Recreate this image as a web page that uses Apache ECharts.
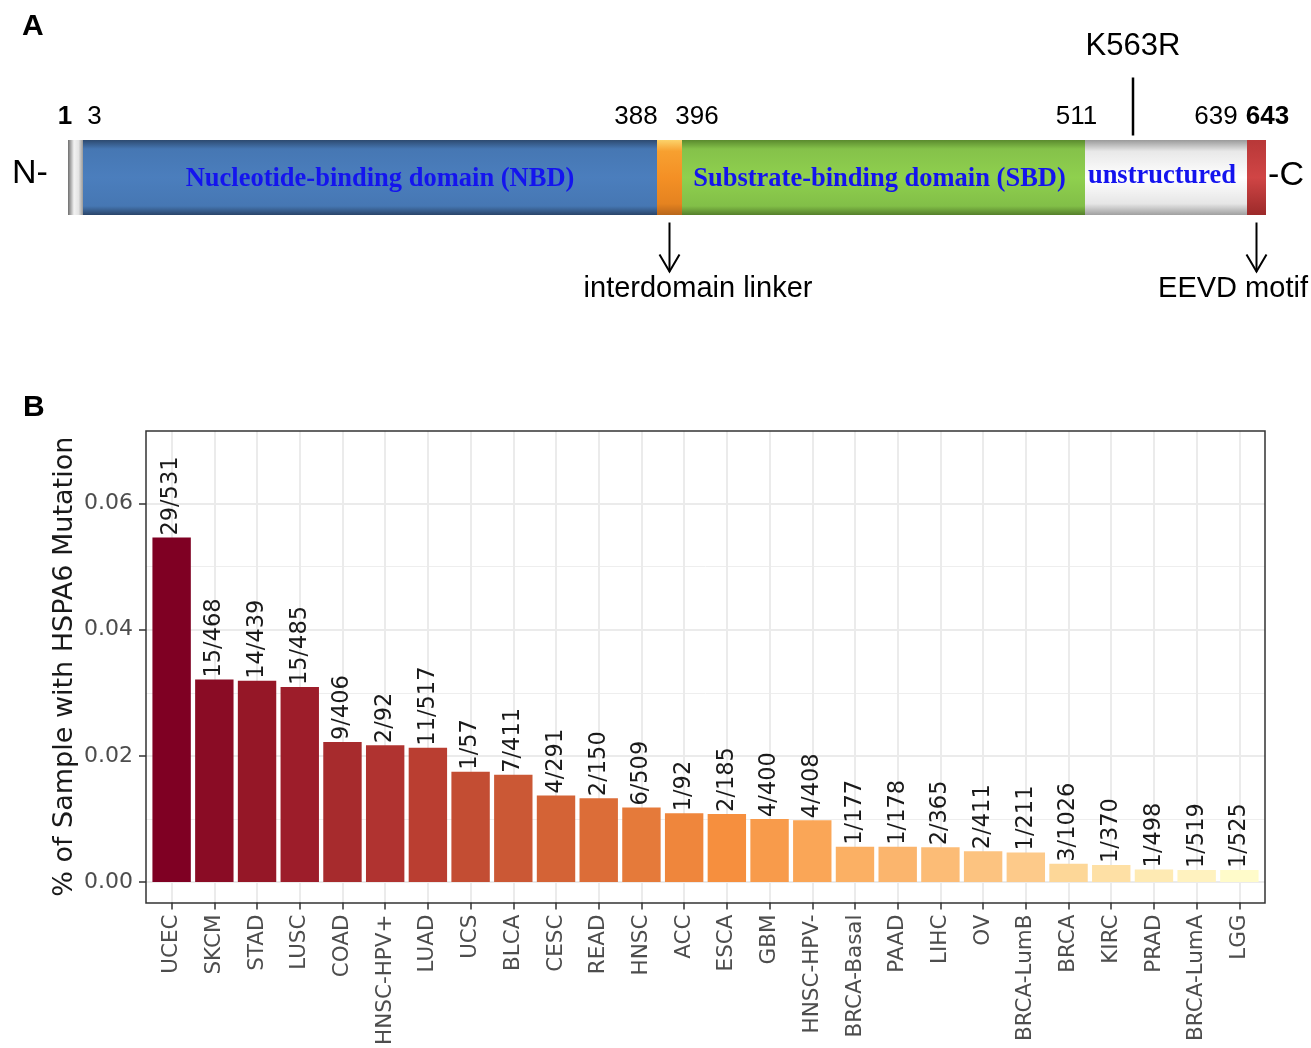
<!DOCTYPE html>
<html>
<head>
<meta charset="utf-8">
<script src="https://cdn.jsdelivr.net/npm/echarts@6/dist/echarts.min.js"></script>
<style>
html,body{margin:0;padding:0;background:#fff;}
#main{width:1311px;height:1048px;}
</style>
</head>
<body>
<div id="main"></div>
<script>
// ---------- panel A : HSPA6 domains (schematic, drawn lengths, not to scale) ----------
const domainNames = ["", "Nucleotide-binding domain (NBD)", "", "Substrate-binding domain (SBD)", "unstructured", ""];
const domainLength = [15, 574, 25, 403, 162, 19];
const edgeLabels = ["1", "3", "388", "396", "511", "639", "643"];
const mutationLabel = "K563R";
const mutationAt = 1065;
const arrowLabels = ["interdomain linker", "EEVD motif"];

// ---------- panel B : mutation frequency per cancer type ----------
const cancerTypes = ["UCEC", "SKCM", "STAD", "LUSC", "COAD", "HNSC-HPV+", "LUAD", "UCS", "BLCA", "CESC",
    "READ", "HNSC", "ACC", "ESCA", "GBM", "HNSC-HPV-", "BRCA-Basal", "PAAD", "LIHC", "OV",
    "BRCA-LumB", "BRCA", "KIRC", "PRAD", "BRCA-LumA", "LGG"];
const mutatedOf = ["29/531", "15/468", "14/439", "15/485", "9/406", "2/92", "11/517", "1/57", "7/411", "4/291",
    "2/150", "6/509", "1/92", "2/185", "4/400", "4/408", "1/177", "1/178", "2/365", "2/411",
    "1/211", "3/1026", "1/370", "1/498", "1/519", "1/525"];
const mutationFraction = [0.0546, 0.0321, 0.0319, 0.0309, 0.0222, 0.0217, 0.0213, 0.0175, 0.0170, 0.0137,
    0.0133, 0.0118, 0.0109, 0.0108, 0.0100, 0.0098, 0.0056, 0.0056, 0.0055, 0.0049,
    0.0047, 0.0029, 0.0027, 0.0020, 0.0019, 0.0019];
const yMajor = [0, 0.02, 0.04, 0.06];
const yMinor = [0.01, 0.03, 0.05];

const barColors = ["#7f0023", "#8a0c25", "#951727", "#9d1d2a", "#a72b2d", "#b03330", "#ba3e31", "#c34d33",
    "#cb5835", "#d46336", "#dc6d38", "#e57a3a", "#ef863c", "#f68f3e", "#f89b4b", "#faa657",
    "#fbb064", "#fbb56d", "#fcbc76", "#fcc380", "#fdca8a", "#fdd798", "#fee0a5", "#feeab3",
    "#fff2bf", "#fffbca"];

const G = echarts.graphic.LinearGradient;
const domainFill = [
    new G(0, 0, 1, 0, [{offset:0,color:"#6e6e6e"},{offset:0.4,color:"#f2f2f2"},{offset:0.7,color:"#e4e4e4"},{offset:1,color:"#9a9a9a"}]),
    new G(0, 0, 0, 1, [{offset:0,color:"#2d4a70"},{offset:0.12,color:"#4677b3"},{offset:0.5,color:"#4b7ebd"},{offset:0.88,color:"#4677b3"},{offset:1,color:"#2a4569"}]),
    new G(0, 0, 0, 1, [{offset:0,color:"#fcd36a"},{offset:0.15,color:"#f7a030"},{offset:0.5,color:"#f49025"},{offset:0.85,color:"#e58320"},{offset:1,color:"#b8661a"}]),
    new G(0, 0, 0, 1, [{offset:0,color:"#5a8a2e"},{offset:0.12,color:"#85c24a"},{offset:0.5,color:"#8fd04e"},{offset:0.88,color:"#82bf48"},{offset:1,color:"#557f2b"}]),
    new G(0, 0, 0, 1, [{offset:0,color:"#9a9a9a"},{offset:0.15,color:"#e8e8e8"},{offset:0.5,color:"#ffffff"},{offset:0.85,color:"#e6e6e6"},{offset:1,color:"#a0a0a0"}]),
    new G(0, 0, 0, 1, [{offset:0,color:"#b83838"},{offset:0.5,color:"#d04545"},{offset:1,color:"#9c2a2a"}])
];
const domainLabelOffset = [[0,0],[10,2],[0,0],[-4,2],[-4,-1],[0,0]];
const edgeDx = [-3, 11.5, -21, 15, -8.5, -31, 1.5];
const edgeBold = [true, false, false, false, false, false, true];

function edgePos(i){
    let s = 0;
    for(let k=0;k<i;k++) s += domainLength[k];
    return s;
}

const sansA = '"Liberation Sans", Arial, sans-serif';
const sansB = '"DejaVu Sans", sans-serif';

const domainSeries = domainNames.map((name, i) => ({
    type: "bar",
    stack: "domain",
    xAxisIndex: 0,
    yAxisIndex: 0,
    barWidth: "100%",
    silent: true,
    data: [domainLength[i]],
    itemStyle: { color: domainFill[i] },
    label: {
        show: name !== "",
        position: "inside",
        offset: domainLabelOffset[i],
        formatter: name,
        color: "#1414ee",
        fontFamily: '"Liberation Serif", "Times New Roman", serif',
        fontWeight: "bold",
        fontSize: 26.5
    }
}));

function annotate(params, api){
    const kids = [];
    const left = api.coord([0, 0]);
    const right = api.coord([edgePos(domainLength.length), 0]);
    const cy = left[1];

    edgeLabels.forEach((t, i) => {
        const p = api.coord([edgePos(i), 0]);
        kids.push({type:"text", style:{text:t, x:p[0]+edgeDx[i], y:cy-61, align:"center", verticalAlign:"middle",
            font:(edgeBold[i] ? "bold " : "") + "26px " + sansA, fill:"#000"}});
    });

    // mutation site
    const m = api.coord([mutationAt, 0]);
    kids.push({type:"line", shape:{x1:m[0], y1:cy-100, x2:m[0], y2:cy-42}, style:{stroke:"#000", lineWidth:2.5}});
    kids.push({type:"text", style:{text:mutationLabel, x:m[0], y:cy-131, align:"center", verticalAlign:"middle",
        font:"31px " + sansA, fill:"#000"}});

    // arrows below linker and EEVD
    const arrowAt = [(edgePos(2)+edgePos(3))/2, (edgePos(5)+edgePos(6))/2];
    const textDx = [28.5, -23.5];
    arrowAt.forEach((a, i) => {
        const p = api.coord([a, 0]);
        kids.push({type:"line", shape:{x1:p[0], y1:cy+45, x2:p[0], y2:cy+94}, style:{stroke:"#000", lineWidth:2}});
        kids.push({type:"polyline", shape:{points:[[p[0]-10, cy+77],[p[0], cy+94],[p[0]+10, cy+77]]}, style:{stroke:"#000", lineWidth:2, fill:null}});
        kids.push({type:"text", style:{text:arrowLabels[i], x:p[0]+textDx[i], y:cy+111, align:"center", verticalAlign:"middle",
            font:"29px " + sansA, fill:"#000"}});
    });

    kids.push({type:"text", style:{text:"N-", x:left[0]-38, y:cy-4, align:"center", verticalAlign:"middle", font:"34px " + sansA, fill:"#000"}});
    kids.push({type:"text", style:{text:"-C", x:right[0]+20, y:cy-2, align:"center", verticalAlign:"middle", font:"34px " + sansA, fill:"#000"}});

    return {type:"group", children:kids};
}

const chart = echarts.init(document.getElementById("main"), null, {renderer:"canvas"});

chart.setOption({
    backgroundColor: "#fff",
    animation: false,
    grid: [
        {left: 68, top: 140, width: 1198, height: 75},
        {left: 146, top: 431, width: 1119, height: 472}
    ],
    xAxis: [
        {gridIndex: 0, type: "value", min: 0, max: edgePos(domainLength.length), show: false},
        {
            gridIndex: 1, type: "value", min: -0.6, max: cancerTypes.length - 0.4,
            position: "bottom",
            axisLine: {show: false, onZero: false},
            axisTick: {show: true, length: 7, customValues: cancerTypes.map((c, i) => i), lineStyle: {color: "#333", width: 1.5}},
            axisLabel: {
                customValues: cancerTypes.map((c, i) => i),
                formatter: v => cancerTypes[Math.round(v)],
                rotate: 90, margin: 12,
                color: "#4d4d4d", fontFamily: sansB, fontSize: 21.5
            },
            splitLine: {show: true, lineStyle: {color: "#ebebeb", width: 2}}
        }
    ],
    yAxis: [
        {gridIndex: 0, type: "category", data: ["HSPA6"], show: false},
        {
            gridIndex: 1, type: "value", min: -0.00324, max: 0.0715,
            position: "left",
            name: "% of Sample with HSPA6 Mutation",
            nameLocation: "middle", nameGap: 68,
            nameMoveOverlap: false,
            nameTextStyle: {color: "#1a1a1a", fontFamily: sansB, fontSize: 27},
            axisLine: {show: false, onZero: false},
            axisTick: {show: true, length: 7, customValues: yMajor, lineStyle: {color: "#333", width: 1.5}},
            axisLabel: {customValues: yMajor, formatter: v => v.toFixed(2), margin: 13,
                color: "#4d4d4d", fontFamily: sansB, fontSize: 22},
            splitLine: {show: true, lineStyle: {color: "#ebebeb", width: 2}}
        },
        {
            gridIndex: 1, type: "value", min: -0.00324, max: 0.0715, position: "left",
            axisLine: {show: false, onZero: false},
            axisTick: {show: false, customValues: yMinor},
            axisLabel: {show: false, customValues: yMinor},
            splitLine: {show: true, lineStyle: {color: "#eeeeee", width: 1}}
        }
    ],
    series: domainSeries.concat([
        {
            type: "custom",
            xAxisIndex: 0,
            yAxisIndex: 0,
            silent: true,
            clip: false,
            z: 10,
            data: [[0, 0]],
            renderItem: annotate
        },
        {
            type: "bar",
            xAxisIndex: 1,
            yAxisIndex: 1,
            barWidth: 38.4,
            data: mutationFraction.map((v, i) => ({value: [i, v], itemStyle: {color: barColors[i]}})),
            label: {
                show: true,
                position: "top",
                distance: 2,
                rotate: 90,
                align: "left",
                verticalAlign: "middle",
                formatter: p => mutatedOf[p.dataIndex],
                color: "#1a1a1a",
                fontFamily: sansB,
                fontSize: 22.5
            }
        }
    ]),
    graphic: [
        {type: "rect", shape: {x: 146, y: 431, width: 1119, height: 472}, style: {fill: null, stroke: "#333", lineWidth: 1.5}, z: 100, silent: true},
        {type: "text", x: 22, y: 12, style: {text: "A", font: "bold 30px " + sansA, fill: "#000"}},
        {type: "text", x: 23, y: 393, style: {text: "B", font: "bold 30px " + sansA, fill: "#000"}}
    ]
});
</script>
</body>
</html>
